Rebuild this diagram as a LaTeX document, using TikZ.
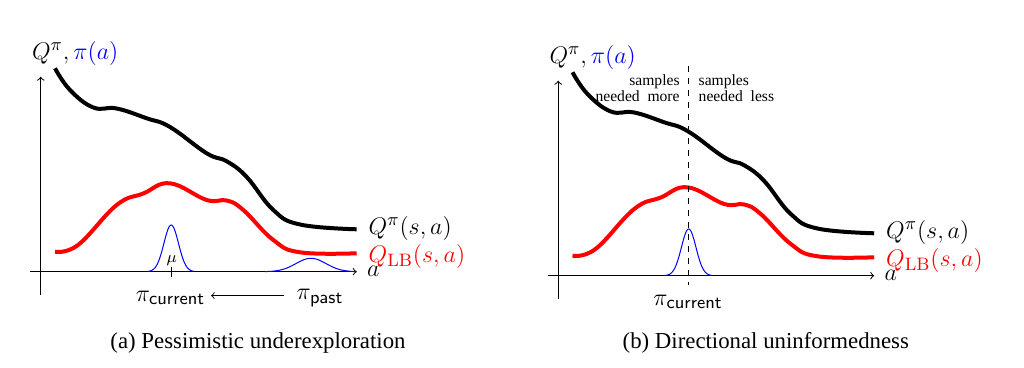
\documentclass[tikz,border=0pt]{standalone}
\usepackage[no-math]{fontspec}
\setmainfont{Liberation Serif}
\usetikzlibrary{positioning}
\tikzset{>=to,
  axis/.style={->,line width=0.5pt},
  qpi/.style={line width=2pt,black},
  qlb/.style={line width=2pt,red},
  dens/.style={blue,line width=0.5pt},
  lbl/.style={inner sep=0pt,font=\fontsize{13}{15}\selectfont},
  note/.style={inner sep=0pt,font=\fontsize{7.8}{6.4}\selectfont},
  capt/.style={inner sep=0pt,font=\fontsize{11.4}{13}\selectfont}}

\begin{document}
\begin{tikzpicture}[x=0.5pt,y=-0.5pt]
  \useasboundingbox (0,0) rectangle (1024,368);

  % both panels share axes, curves and the current policy
  \foreach \dx/\dy/\p in {0/0/a,517.5/4/b} {
    \begin{scope}[shift={(\dx,\dy)}]
      \coordinate (xs\p) at (30,271.7);
      \coordinate (xe\p) at (356.7,271.7);
      \coordinate (ys\p) at (40.7,295);
      \coordinate (ye\p) at (40.7,76.7);
      \draw[axis] (xs\p) -- (xe\p);
      \draw[axis] (ys\p) -- (ye\p);
      \node[lbl,anchor=west] (al\p) at (366.7,271) {$a$};
      \node[lbl,anchor=west] (tl\p) at (31.7,53.3) {$Q^\pi, \textcolor{blue}{\pi(a)}$};

      \draw[qpi] plot[smooth,tension=0.7] coordinates {(55,68.3) (70,90) (93.3,107.5)
        (116.7,108.5) (146.7,118.3) (170,127) (206.7,153.3) (226.7,161.3)
        (246.7,177) (273.3,210) (300,224.5) (356.7,229.3)}
        coordinate (qe\p);
      \draw[qlb] plot[smooth,tension=0.7] coordinates {(55,251.7) (78,245)
        (116.7,205) (143.3,193.5) (170,183.3) (206.7,200)
        (226.7,200.5) (243.3,210) (273.3,240) (300,252.3) (356.7,253.3)}
        coordinate (le\p);
      \node[lbl,anchor=west] (ql\p) at (368.3,228.3) {$Q^\pi(s,a)$};
      \node[lbl,anchor=west,red] (ll\p) at (368.3,256.7) {$Q_{\mathrm{LB}}(s,a)$};

      \draw[dens] plot[domain=148:194,samples=60]
        (\x,{271.7-46.7*exp(-((\x-171.2)/7.3)^2/2)});
      \node[lbl] (cur\p) at (170.5,298) {$\pi_{\mathsf{current}}$};
    \end{scope}
  }

  % (a) pessimistic underexploration
  \draw (171.2,267) -- (171.2,276.7);
  \node[inner sep=0pt,font=\footnotesize] (mu) at (171.7,261) {$\mu$};
  \draw[dens] plot[domain=265:356.7,samples=60]
    (\x,{271.7-13.4*exp(-((\x-311)/15)^2/2)});
  \node[lbl] (past) at (320,298) {$\pi_{\mathsf{past}}$};
  \draw[->] ([xshift=-6pt,yshift=1.2pt]past.west) -- ([xshift=2.8pt,yshift=1.2pt]cura.east);
  \node[capt] (capa) at (258,343) {(a) Pessimistic underexploration};

  % (b) directional uninformedness
  \coordinate (dt) at (688.7,66);
  \coordinate (db) at (688.7,285);
  \draw[dashed,line width=0.7pt] (dt) -- (db);
  \node[note,align=right,anchor=east] (more) at (680,88) {samples\\needed~~more};
  \node[note,align=left,anchor=west] (less) at (698.3,88) {samples\\needed~~less};
  \node[capt] (capb) at (765.8,343) {(b) Directional uninformedness};
\end{tikzpicture}
\end{document}
